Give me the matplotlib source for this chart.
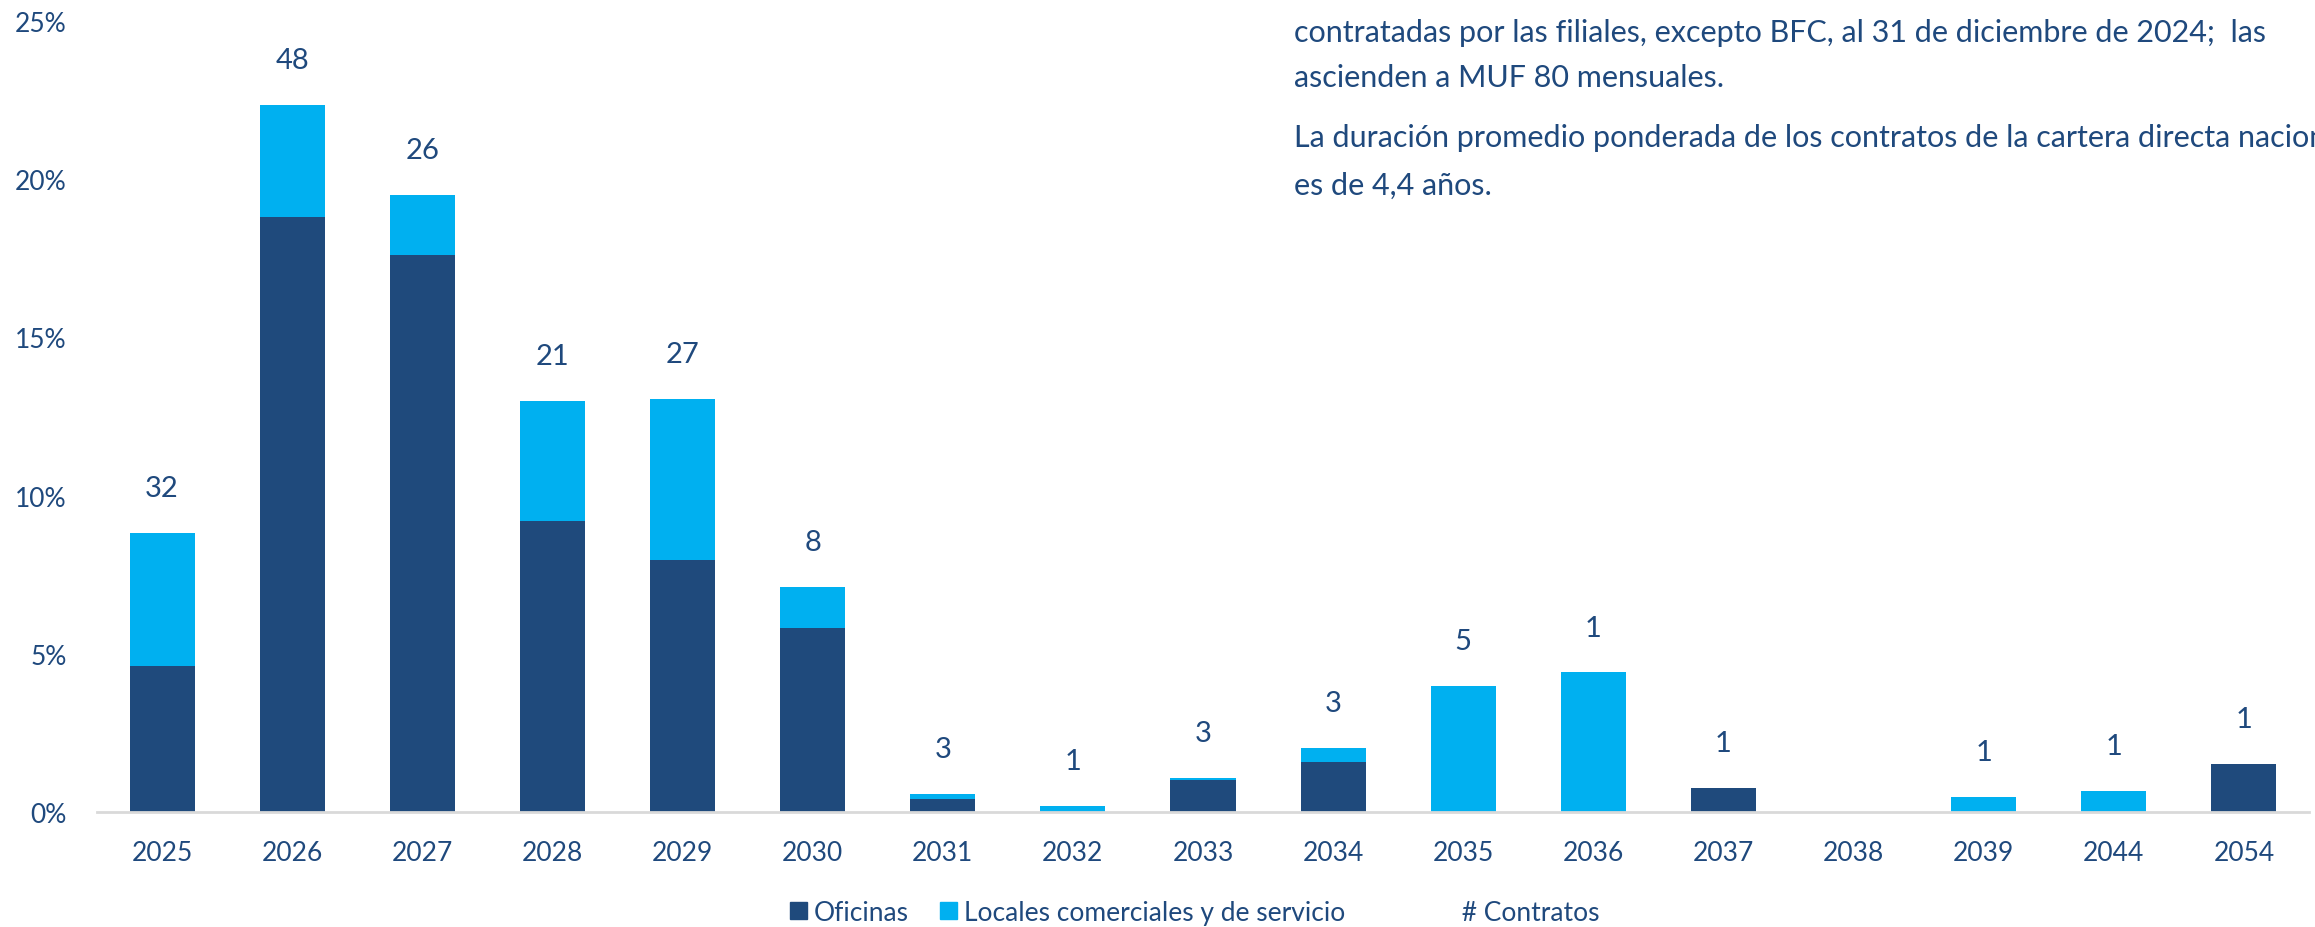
import matplotlib
matplotlib.use('Agg')
import matplotlib.pyplot as plt
from matplotlib.patches import Patch
from matplotlib.lines import Line2D
import numpy as np

plt.rcParams['font.family'] = ['Lato', 'DejaVu Sans']

years = ['2025', '2026', '2027', '2028', '2029', '2030', '2031', '2032', '2033',
         '2034', '2035', '2036', '2037', '2038', '2039', '2044', '2054']
oficinas = [4.6, 18.8, 17.6, 9.2, 7.95, 5.8, 0.42, 0.0, 1.0,
            1.57, 0.0, 0.0, 0.77, 0.0, 0.0, 0.0, 1.52]
locales = [4.23, 3.55, 1.9, 3.8, 5.1, 1.3, 0.16, 0.2, 0.09,
           0.46, 3.99, 4.41, 0.0, 0.0, 0.47, 0.65, 0.0]
contratos = [32, 48, 26, 21, 27, 8, 3, 1, 3, 3, 5, 1, 1, None, 1, 1, 1]

text_lines = [
    'contratadas por las filiales, excepto BFC, al 31 de diciembre de 2024;  las',
    'ascienden a MUF 80 mensuales.',
    'La duración promedio ponderada de los contratos de la cartera directa nacional',
    'es de 4,4 años.',
]

dark = '#1F4A7C'
light = '#00B0F0'
txt = '#1F497D'

fig = plt.figure(figsize=(23.15, 9.28), dpi=100)
ax = fig.add_axes([97 / 2315, 1 - 813 / 928, 2212 / 2315, 791 / 928])

x = np.arange(len(years))
of = np.array(oficinas) / 100
lo = np.array(locales) / 100
ax.bar(x, of, width=0.5, color=dark)
ax.bar(x, lo, width=0.5, bottom=of, color=light)

totals = of + lo
for i, n in enumerate(contratos):
    if n is None:
        continue
    ax.annotate(str(n), (x[i], totals[i]), xytext=(0, 23), textcoords='offset points',
                ha='center', va='bottom', fontsize=21, color=txt)

ax.set_xlim(-0.5, len(years) - 0.5)
ax.set_ylim(0, 0.25)
ax.set_yticks(np.arange(0, 0.26, 0.05))
ax.set_yticklabels([f'{int(round(v * 100))}%' for v in np.arange(0, 0.26, 0.05)])
ax.set_xticks(x)
ax.set_xticklabels(years)
ax.tick_params(axis='both', length=0, labelsize=19, labelcolor=txt)
ax.tick_params(axis='x', pad=20)
ax.tick_params(axis='y', pad=22)
for s in ['top', 'right', 'left']:
    ax.spines[s].set_visible(False)
ax.spines['bottom'].set_color('#D9D9D9')
ax.spines['bottom'].set_linewidth(2)

# third entry has no visible marker, only extra room before its text
handles = [Patch(color=dark), Patch(color=light), Line2D([], [], linestyle='none')]
labels = ['Oficinas', 'Locales comerciales y de servicio', '         # Contratos']
fig.legend(handles, labels, loc='center', bbox_to_anchor=(0.516, 0.016), ncol=3,
           frameon=False, fontsize=19, labelcolor=txt, handlelength=0.65,
           handleheight=0.65, handletextpad=0.25, columnspacing=1.2)

baselines = [42, 87, 147, 195]
for line, yb in zip(text_lines, baselines):
    fig.text(1294 / 2315, 1 - yb / 928, line, fontsize=22, color=txt,
             ha='left', va='baseline')

fig.savefig('out.png', dpi=100)
